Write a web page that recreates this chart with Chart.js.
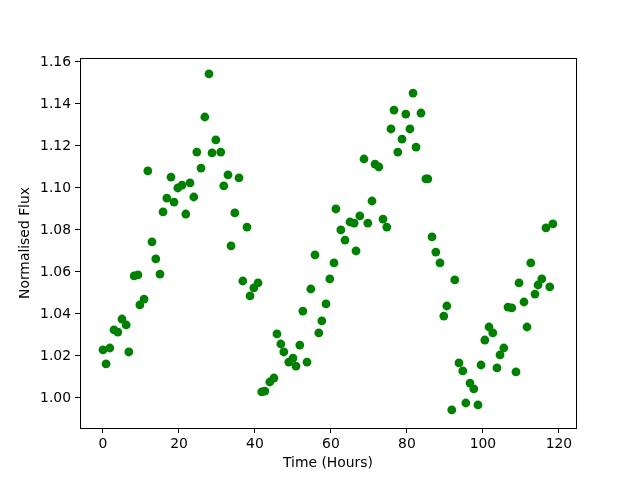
<!DOCTYPE html>
<html>
<head>
<meta charset="utf-8">
<script src="https://cdn.jsdelivr.net/npm/chart.js@4/dist/chart.umd.min.js"></script>
<style>
  html, body { margin: 0; padding: 0; background: #fff; }
  #wrap { width: 640px; height: 480px; }
</style>
</head>
<body>
<div id="wrap"><canvas id="myChart" width="640" height="480"></canvas></div>
<script>
// light curve
const hours = [
  0.0, 0.8, 1.8, 2.9, 3.9, 5.0, 6.1, 6.8, 8.2, 9.2,
  9.7, 10.8, 11.8, 12.9, 13.9, 15.0, 15.8, 16.8, 17.9, 18.7,
  19.7, 20.8, 21.8, 22.9, 23.9, 24.7, 25.8, 26.8, 27.9, 28.7,
  29.7, 31.0, 31.8, 32.9, 33.7, 34.7, 35.8, 36.8, 37.9, 38.7,
  39.7, 40.8, 41.8, 42.6, 43.9, 45.0, 45.8, 46.8, 47.6, 48.9,
  50.0, 50.8, 51.8, 52.6, 53.7, 54.7, 55.8, 56.8, 57.6, 58.7,
  59.7, 60.8, 61.3, 62.6, 63.7, 65.0, 66.1, 66.6, 67.6, 68.7,
  69.7, 70.8, 71.6, 72.6, 73.7, 74.7, 75.8, 76.6, 77.6, 78.7,
  79.7, 80.8, 81.6, 82.4, 83.7, 85.0, 85.5, 86.6, 87.6, 88.7,
  89.7, 90.5, 91.8, 92.6, 93.7, 94.7, 95.5, 96.6, 97.6, 98.7,
  99.5, 100.5, 101.6, 102.6, 103.7, 104.5, 105.5, 106.6, 107.6, 108.7,
  109.5, 110.8, 111.6, 112.6, 113.7, 114.5, 115.5, 116.6, 117.6, 118.4
];
const flux = [
  1.0229, 1.0162, 1.0238, 1.0324, 1.0314, 1.0376, 1.0348, 1.0219, 1.0581, 1.0586,
  1.0443, 1.0471, 1.1081, 1.0743, 1.0662, 1.0590, 1.0886, 1.0952, 1.1052, 1.0933,
  1.1000, 1.1014, 1.0876, 1.1024, 1.0957, 1.1171, 1.1095, 1.1338, 1.1543, 1.1167,
  1.1229, 1.1171, 1.1010, 1.1062, 1.0724, 1.0881, 1.1048, 1.0557, 1.0814, 1.0486,
  1.0524, 1.0548, 1.0029, 1.0033, 1.0076, 1.0095, 1.0305, 1.0257, 1.0219, 1.0171,
  1.0190, 1.0152, 1.0252, 1.0414, 1.0171, 1.0519, 1.0681, 1.0310, 1.0367, 1.0448,
  1.0567, 1.0643, 1.0900, 1.0800, 1.0752, 1.0838, 1.0833, 1.0700, 1.0867, 1.1138,
  1.0833, 1.0938, 1.1114, 1.1100, 1.0852, 1.0814, 1.1281, 1.1371, 1.1171, 1.1233,
  1.1352, 1.1281, 1.1452, 1.1195, 1.1357, 1.1043, 1.1043, 1.0767, 1.0695, 1.0643,
  1.0390, 1.0438, 0.9943, 1.0562, 1.0167, 1.0129, 0.9976, 1.0071, 1.0043, 0.9967,
  1.0157, 1.0276, 1.0338, 1.0310, 1.0143, 1.0205, 1.0238, 1.0433, 1.0429, 1.0124,
  1.0548, 1.0457, 1.0338, 1.0643, 1.0495, 1.0538, 1.0567, 1.0810, 1.0529, 1.0829
];
const xTicks = [0, 20, 40, 60, 80, 100, 120];
const yTicks = [1.00, 1.02, 1.04, 1.06, 1.08, 1.10, 1.12, 1.14, 1.16];

const points = []
for (let i = 0; i < hours.length; i++) {
    points.push({x: hours[i], y: flux[i]});
}

const fontFamily = "'DejaVu Sans', sans-serif";

// box round the plot, like matplotlib spines
const frame = {
    id: 'frame',
    afterDatasetsDraw(chart) {
        const a = chart.chartArea;
        const c = chart.ctx;
        c.save();
        c.strokeStyle = '#000';
        c.lineWidth = 1;
        c.strokeRect(Math.round(a.left) + 0.5, Math.round(a.top) + 0.5,
                     Math.round(a.right - a.left), Math.round(a.bottom - a.top));
        c.restore();
    }
};

var ctx = document.getElementById('myChart').getContext('2d');
var myChart = new Chart(ctx, {
    type: 'scatter',
    data: {
        datasets: [{
            data: points,
            backgroundColor: '#008000',
            borderColor: '#008000',
            borderWidth: 0,
            pointRadius: 4.4,
            pointHoverRadius: 4.4
        }]
    },
    options: {
        responsive: false,
        animation: false,
        events: [],
        layout: {
            padding: {top: 58, right: 64, left: 0, bottom: 0}
        },
        plugins: {
            legend: {display: false},
            tooltip: {enabled: false}
        },
        scales: {
            x: {
                type: 'linear',
                min: -6.05,
                max: 124.5,
                afterBuildTicks: (scale) => { scale.ticks = xTicks.map(v => ({value: v})); },
                afterFit: (scale) => { scale.height = 52; },
                border: {display: false},
                grid: {
                    drawOnChartArea: false,
                    drawTicks: true,
                    tickLength: 5,
                    color: '#000',
                    lineWidth: 1
                },
                ticks: {
                    color: '#000',
                    padding: 3,
                    maxRotation: 0,
                    font: {family: fontFamily, size: 13.9},
                    callback: (v) => String(v)
                },
                title: {
                    display: true,
                    text: 'Time (Hours)',
                    color: '#000',
                    font: {family: fontFamily, size: 13.9, lineHeight: 1.2},
                    padding: {top: 0, bottom: 8}
                }
            },
            y: {
                type: 'linear',
                min: 0.9857,
                max: 1.1619,
                afterBuildTicks: (scale) => { scale.ticks = yTicks.map(v => ({value: v})); },
                afterFit: (scale) => { scale.width = 80; },
                border: {display: false},
                grid: {
                    drawOnChartArea: false,
                    drawTicks: true,
                    tickLength: 5,
                    color: '#000',
                    lineWidth: 1
                },
                ticks: {
                    color: '#000',
                    padding: 4,
                    font: {family: fontFamily, size: 13.9},
                    callback: (v) => Number(v).toFixed(2)
                },
                title: {
                    display: true,
                    text: 'Normalised Flux',
                    color: '#000',
                    font: {family: fontFamily, size: 13.9, lineHeight: 1.2},
                    padding: {top: 17, bottom: 0}
                }
            }
        }
    },
    plugins: [frame]
});
</script>
</body>
</html>
